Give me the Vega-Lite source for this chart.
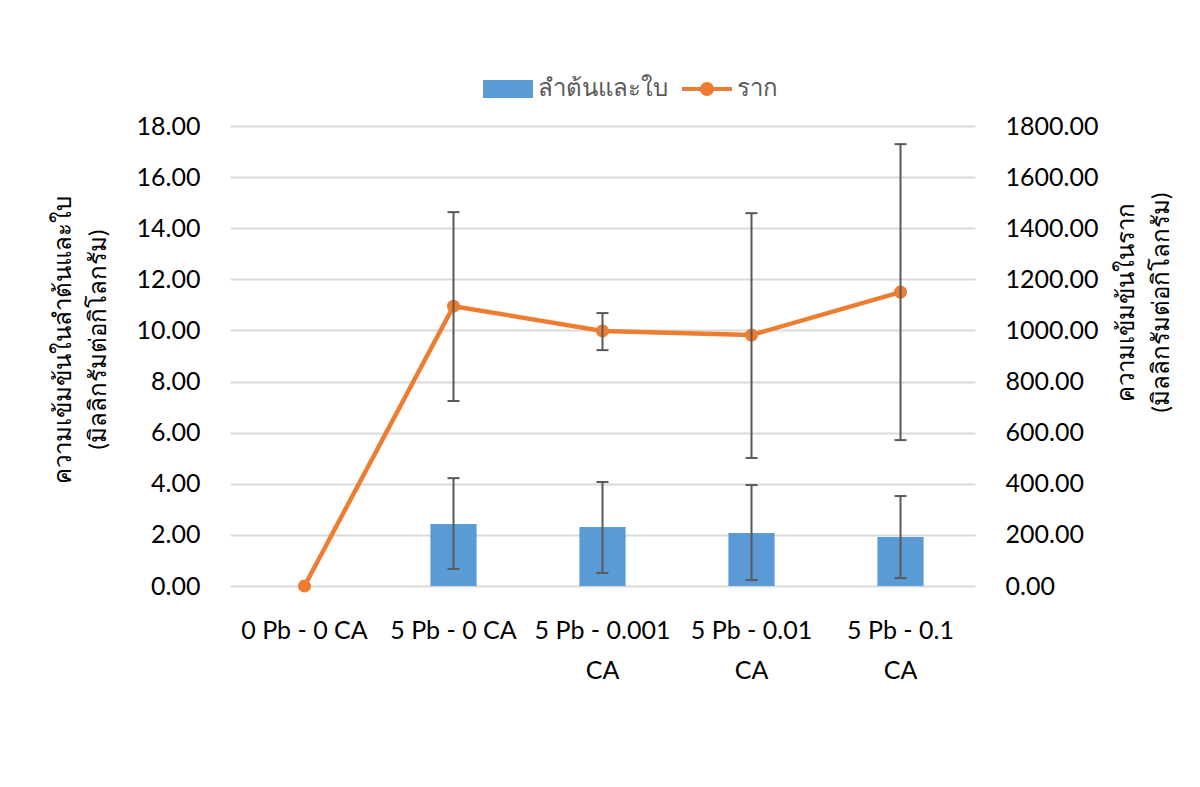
{
  "$schema": "https://vega.github.io/schema/vega-lite/v6.json",
  "width": 745,
  "height": 460,
  "autosize": {"type": "none"},
  "padding": {"left": 230, "top": 126, "right": 225, "bottom": 201},
  "background": "white",
  "config": {
    "view": {"stroke": null},
    "font": "Lato",
    "axis": {
      "labelFont": "Lato",
      "labelFontSize": 25,
      "labelColor": "#000000",
      "titleFont": "Lato",
      "titleFontSize": 24,
      "titleColor": "#000000",
      "titleFontWeight": "normal",
      "domain": false,
      "ticks": false,
      "tickSize": 0
    }
  },
  "data": {
    "values": [
      {"cat": "0 Pb - 0 CA", "bar": 0, "barLo": null, "barHi": null, "root": 0, "rootLo": null, "rootHi": null},
      {"cat": "5 Pb - 0 CA", "bar": 2.43, "barLo": 0.67, "barHi": 4.22, "root": 1095, "rootLo": 724, "rootHi": 1463},
      {"cat": "5 Pb - 0.001 CA", "bar": 2.31, "barLo": 0.51, "barHi": 4.07, "root": 998, "rootLo": 923, "rootHi": 1068},
      {"cat": "5 Pb - 0.01 CA", "bar": 2.07, "barLo": 0.23, "barHi": 3.95, "root": 982, "rootLo": 501, "rootHi": 1459},
      {"cat": "5 Pb - 0.1 CA", "bar": 1.92, "barLo": 0.31, "barHi": 3.52, "root": 1150, "rootLo": 571, "rootHi": 1729}
    ]
  },
  "resolve": {"scale": {"y": "independent"}},
  "encoding": {
    "x": {
      "field": "cat",
      "type": "nominal",
      "sort": null,
      "scale": {"paddingInner": 0.69, "paddingOuter": 0.345},
      "axis": {
        "title": null,
        "labelAngle": 0,
        "grid": false,
        "labelPadding": 32,
        "labelLineHeight": 40,
        "labelLimit": 300,
        "labelOverlap": false,
        "labelExpr": "indexof(datum.label,'0 CA')>=0 ? datum.label : [replace(datum.label,' CA',''),'CA']"
      }
    }
  },
  "layer": [
    {
      "layer": [
        {
          "mark": {"type": "bar"},
          "encoding": {
            "y": {
              "field": "bar",
              "type": "quantitative",
              "scale": {"domain": [0, 18], "nice": false},
              "axis": {
                "orient": "left",
                "values": [0, 2, 4, 6, 8, 10, 12, 14, 16, 18],
                "format": ".2f",
                "grid": true,
                "gridColor": "#d9d9d9",
                "gridWidth": 2,
                "labelPadding": 30,
                "title": ["ความเข้มข้นในลำต้นและใบ", "(มิลลิกรัมต่อกิโลกรัม)"],
                "titleAngle": -90,
                "titleX": -167,
                "titleY": 213,
                "titleBaseline": "middle",
                "titleAlign": "center",
                "titleLineHeight": 35
              }
            },
            "color": {
              "datum": "ลำต้นและใบ",
              "scale": {"domain": ["ลำต้นและใบ", "ราก"], "range": ["#5b9bd5", "#ed7d31"]},
              "legend": {
                "orient": "none",
                "legendX": 253,
                "legendY": -62,
                "direction": "horizontal",
                "title": null,
                "labelFontSize": 24,
                "labelColor": "#595959",
                "labelFont": "Lato",
                "symbolSize": 2500,
                "labelOffset": 5,
                "columnPadding": 14,
                "encode": {
                  "symbols": {
                    "update": {
                      "shape": {"signal": "datum.value === 'ราก' ? 'M-1,-0.08H-0.27V0.08H-1Z M0.27,-0.08H1V0.08H0.27Z M0.28,0A0.28,0.28 0 1 1 -0.28,0A0.28,0.28 0 1 1 0.28,0Z' : 'M-1,-0.36H1V0.36H-1Z'"},
                      "fill": {"signal": "datum.value === 'ราก' ? '#ed7d31' : '#5b9bd5'"},
                      "stroke": {"value": "transparent"},
                      "strokeWidth": {"value": 0},
                      "opacity": {"value": 1},
                      "fillOpacity": {"value": 1}
                    }
                  }
                }
              }
            }
          }
        },
        {
          "transform": [{"filter": "datum.barLo != null"}],
          "mark": {"type": "rule", "color": "#595959", "strokeWidth": 2},
          "encoding": {
            "y": {"field": "barLo", "type": "quantitative"},
            "y2": {"field": "barHi"}
          }
        },
        {
          "transform": [{"filter": "datum.barLo != null"}],
          "mark": {"type": "tick", "color": "#595959", "thickness": 2, "size": 12, "opacity": 1},
          "encoding": {"y": {"field": "barLo", "type": "quantitative"}}
        },
        {
          "transform": [{"filter": "datum.barHi != null"}],
          "mark": {"type": "tick", "color": "#595959", "thickness": 2, "size": 12, "opacity": 1},
          "encoding": {"y": {"field": "barHi", "type": "quantitative"}}
        }
      ]
    },
    {
      "layer": [
        {
          "mark": {"type": "line", "strokeWidth": 4.5, "point": {"filled": true, "size": 170, "opacity": 1}},
          "encoding": {
            "y": {
              "field": "root",
              "type": "quantitative",
              "scale": {"domain": [0, 1800], "nice": false},
              "axis": {
                "orient": "right",
                "values": [0, 200, 400, 600, 800, 1000, 1200, 1400, 1600, 1800],
                "format": ".2f",
                "grid": false,
                "labelPadding": 30,
                "title": ["ความเข้มข้นในราก", "(มิลลิกรัมต่อกิโลกรัม)"],
                "titleAngle": -90,
                "titleX": 151,
                "titleY": 176,
                "titleBaseline": "middle",
                "titleAlign": "center",
                "titleLineHeight": 35
              }
            },
            "color": {"datum": "ราก"}
          }
        },
        {
          "transform": [{"filter": "datum.rootLo != null"}],
          "mark": {"type": "rule", "color": "#595959", "strokeWidth": 2},
          "encoding": {
            "y": {"field": "rootLo", "type": "quantitative"},
            "y2": {"field": "rootHi"}
          }
        },
        {
          "transform": [{"filter": "datum.rootLo != null"}],
          "mark": {"type": "tick", "color": "#595959", "thickness": 2, "size": 12, "opacity": 1},
          "encoding": {"y": {"field": "rootLo", "type": "quantitative"}}
        },
        {
          "transform": [{"filter": "datum.rootHi != null"}],
          "mark": {"type": "tick", "color": "#595959", "thickness": 2, "size": 12, "opacity": 1},
          "encoding": {"y": {"field": "rootHi", "type": "quantitative"}}
        }
      ]
    }
  ]
}
